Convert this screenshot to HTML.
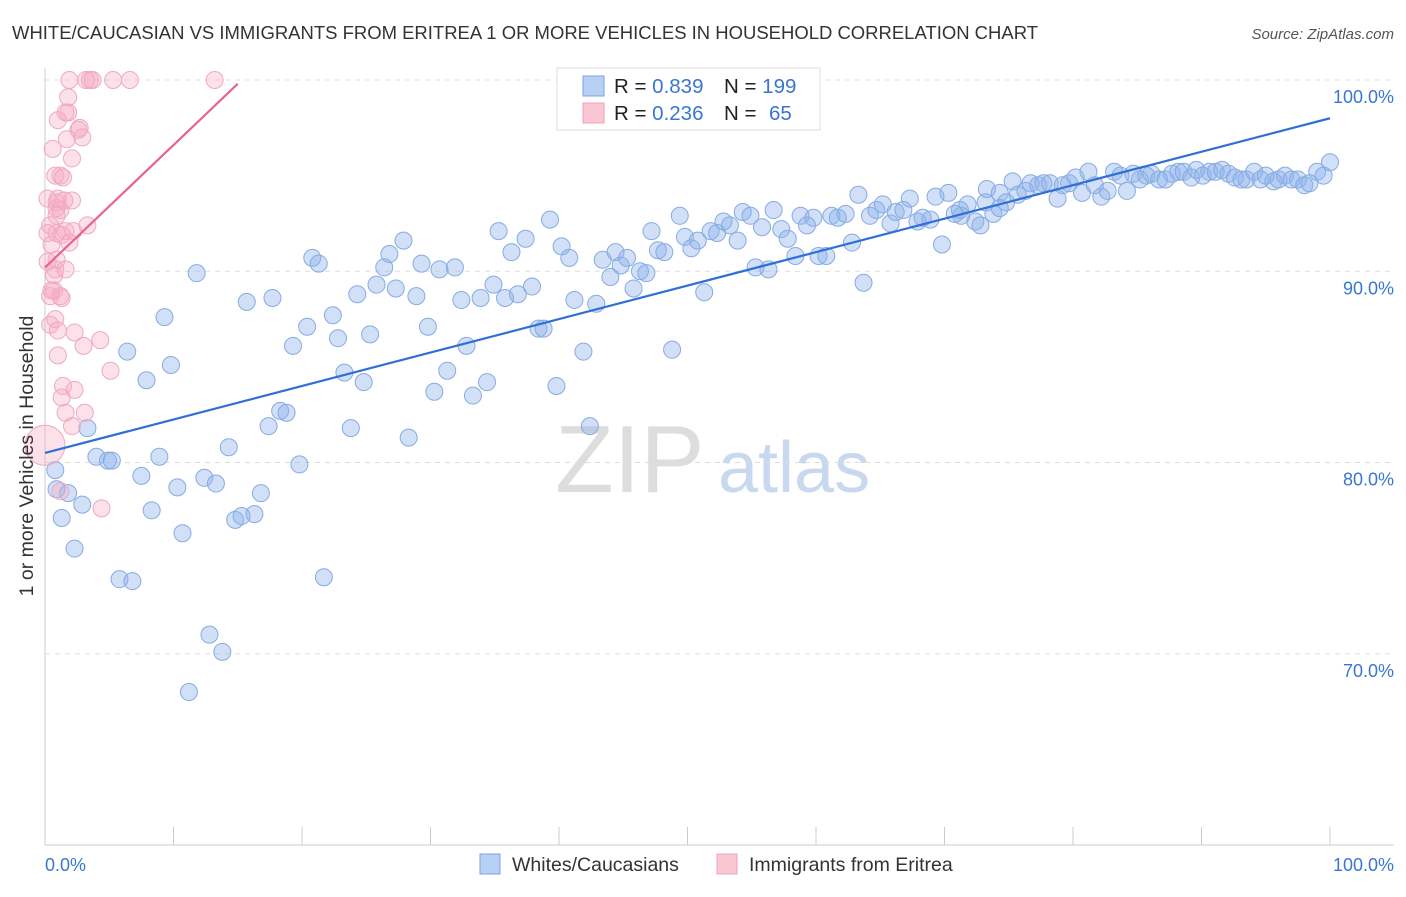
<!DOCTYPE html>
<html><head><meta charset="utf-8"><style>
body{margin:0;background:#fff;font-family:"Liberation Sans",sans-serif;}
svg text{font-family:"Liberation Sans",sans-serif;}
</style></head><body>
<svg id="chart" width="1406" height="892" viewBox="0 0 1406 892">
<text x="12" y="39" font-size="18" fill="#333" textLength="1026" lengthAdjust="spacingAndGlyphs">WHITE/CAUCASIAN VS IMMIGRANTS FROM ERITREA 1 OR MORE VEHICLES IN HOUSEHOLD CORRELATION CHART</text>
<text x="1394" y="39" font-size="15" fill="#555" font-style="italic" text-anchor="end">Source: ZipAtlas.com</text>
<text x="555" y="492" font-size="96" fill="#ddd" font-family="Liberation Serif">ZIP</text>
<text x="718" y="492" font-size="72" fill="#c8d8ee">atlas</text>
<g id="grid"></g>
<g id="axes"></g>
<g id="points"></g>
<g id="lines"></g>
<text transform="translate(33,456) rotate(-90)" font-size="19.5" fill="#333" text-anchor="middle">1 or more Vehicles in Household</text>
<text x="45" y="871" font-size="18" fill="#3a76d0">0.0%</text>
<text x="1394" y="871" font-size="18" fill="#3a76d0" text-anchor="end">100.0%</text>
<g>
<rect x="557" y="68" width="263" height="62" fill="#fff" stroke="#ddd"/>
<rect x="583" y="76" width="21" height="20" fill="#b7cff3" stroke="#7aa3e0"/>
<rect x="583" y="103" width="21" height="20" fill="#f9c6d4" stroke="#f0a0bc"/>
<text x="614" y="93" font-size="20.5" fill="#222">R = <tspan fill="#3a76d0">0.839</tspan><tspan x="724">N = </tspan><tspan fill="#3a76d0">199</tspan></text>
<text x="614" y="120" font-size="20.5" fill="#222">R = <tspan fill="#3a76d0">0.236</tspan><tspan x="724">N = </tspan><tspan fill="#3a76d0" x="769">65</tspan></text>
</g>
<g>
<rect x="480" y="854" width="20" height="20" fill="#b7cff3" stroke="#7aa3e0"/>
<text x="512" y="871" font-size="19.5" fill="#333">Whites/Caucasians</text>
<rect x="717" y="854" width="20" height="20" fill="#f9c6d4" stroke="#f0a0bc"/>
<text x="749" y="871" font-size="19.5" fill="#333">Immigrants from Eritrea</text>
</g>
</svg>
<script>
const yTicks=[100,90,80,70];
const yTickLabels=["100.0%","90.0%","80.0%","70.0%"];
const xTicks=[0,10,20,30,40,50,60,70,80,90,100];
const blueX=[0.8,0.9,1.3,1.8,2.3,2.9,3.3,4.0,4.9,5.2,5.8,6.4,6.8,7.5,7.9,8.3,8.9,9.3,9.8,10.3,10.7,11.2,11.8,12.4,12.8,13.3,13.8,14.3,14.8,15.3,15.7,16.3,16.8,17.4,17.7,18.3,18.8,19.3,19.8,20.4,20.8,21.3,21.7,22.4,22.8,23.3,23.8,24.3,24.8,25.3,25.8,26.4,26.8,27.3,27.9,28.3,28.9,29.3,29.8,30.3,30.7,31.3,31.9,32.4,32.8,33.3,33.9,34.4,34.9,35.3,35.8,36.3,36.8,37.4,37.9,38.4,38.8,39.3,39.8,40.2,40.8,41.2,41.9,42.4,42.9,43.4,44.0,44.4,44.8,45.3,45.8,46.3,46.8,47.2,47.7,48.2,48.8,49.4,49.8,50.3,50.8,51.3,51.8,52.3,52.8,53.3,53.9,54.3,54.9,55.3,55.8,56.3,56.7,57.3,57.8,58.4,58.8,59.3,59.8,60.2,60.8,61.2,61.7,62.3,62.8,63.3,63.7,64.2,64.7,65.2,65.8,66.2,66.8,67.3,67.9,68.3,68.9,69.3,69.8,70.3,70.8,71.3,71.8,72.4,72.8,73.3,73.8,74.3,74.8,75.3,75.7,76.3,76.7,77.3,77.7,78.2,78.8,79.2,79.7,80.2,80.7,81.2,81.7,82.2,82.7,83.2,83.7,84.2,84.7,85.2,85.7,86.1,86.7,87.2,87.7,88.2,88.6,89.2,89.6,90.1,90.6,91.1,91.6,92.1,92.6,93.1,93.5,94.1,94.6,95.0,95.6,96.0,96.5,97.0,97.5,98.0,98.4,99.0,99.5,100.0,74.3,73.2,71.2];
const blueY=[79.6,78.6,77.1,78.4,75.5,77.8,81.8,80.3,80.1,80.1,73.9,85.8,73.8,79.3,84.3,77.5,80.3,87.6,85.1,78.7,76.3,68.0,89.9,79.2,71.0,78.9,70.1,80.8,77.0,77.2,88.4,77.3,78.4,81.9,88.6,82.7,82.6,86.1,79.9,87.1,90.7,90.4,74.0,87.7,86.5,84.7,81.8,88.8,84.2,86.7,89.3,90.2,90.9,89.1,91.6,81.3,88.7,90.4,87.1,83.7,90.1,84.8,90.2,88.5,86.1,83.5,88.6,84.2,89.3,92.1,88.6,91.0,88.8,91.7,89.2,87.0,87.0,92.7,84.0,91.3,90.7,88.5,85.8,81.9,88.3,90.6,89.7,91.0,90.3,90.7,89.1,90.0,89.9,92.1,91.1,91.0,85.9,92.9,91.8,91.2,91.6,88.9,92.1,92.0,92.6,92.4,91.6,93.1,92.9,90.2,92.3,90.1,93.2,92.2,91.7,90.8,92.9,92.4,92.8,90.8,90.8,92.9,92.8,93.0,91.5,94.0,89.4,92.9,93.2,93.5,92.5,93.1,93.2,93.8,92.6,92.8,92.7,93.9,91.4,94.1,93.0,92.9,93.5,92.6,92.4,94.3,93.0,94.1,93.6,94.7,94.0,94.2,94.6,94.5,94.6,94.6,93.8,94.5,94.6,94.9,94.1,95.2,94.5,93.9,94.2,95.2,95.0,94.2,95.1,94.8,95.0,95.1,94.8,94.8,95.1,95.2,95.2,94.9,95.3,95.0,95.2,95.2,95.3,95.1,94.9,94.8,94.8,95.2,94.8,95.0,94.7,94.8,95.0,94.8,94.8,94.5,94.6,95.2,95.0,95.7,93.3,93.6,93.2];
const pinkX=[0.2,0.4,0.5,0.7,0.8,0.8,0.9,1.0,1.0,1.2,1.3,1.3,1.4,1.6,1.6,1.7,1.8,1.9,2.1,2.2,2.3,2.6,2.7,2.9,3.0,3.2,3.3,3.5,3.7,4.3,4.4,5.1,5.3,6.6,13.2,0.8,1.2,1.5,0.9,0.5,0.4,1.9,1.6,2.1,1.2,2.3,0.6,0.2,0.9,1.3,0.7,1.4,0.9,1.2,1.8,3.1,1.6,2.1,0.2,0.9,0.4,1.0,1.0];
const pinkY=[93.8,92.4,91.4,89.0,90.1,87.5,93.3,86.9,85.6,93.2,88.6,83.4,84.0,90.1,92.1,96.9,98.3,100,95.9,92.1,86.8,97.4,97.5,97.0,86.1,100,92.4,100,100,86.4,77.6,84.8,100,100,100,95.0,95.0,93.7,90.6,89.0,88.7,91.5,82.6,81.9,78.5,83.8,96.4,92.0,92.0,91.9,89.8,94.9,93.6,88.7,99.1,82.6,98.3,93.7,90.5,92.9,87.2,97.9,93.8];
const blueLine=[[0,80.5],[100,98.0]];
const pinkLine=[[0,90.2],[15,99.8]];

const NS="http://www.w3.org/2000/svg";
const X0=45,X1=1330,Y0=845,Ytop=80;
function sx(v){return X0+(X1-X0)*v/100;}
function sy(v){return Y0-(Y0-Ytop)*(v-60)/40;}
function mk(tag,attrs,parent){const e=document.createElementNS(NS,tag);for(const k in attrs)e.setAttribute(k,attrs[k]);parent.appendChild(e);return e;}
const grid=document.getElementById('grid'),axes=document.getElementById('axes'),pts=document.getElementById('points'),lines=document.getElementById('lines');
yTicks.forEach((t,i)=>{
  const l=mk('line',{x1:X0,x2:1394,y1:sy(t),y2:sy(t),stroke:'#ddd','stroke-dasharray':'5,5'},grid);
  
  
  const tx=mk('text',{x:1394,y:sy(t)+23,'font-size':18,fill:'#3a76d0','text-anchor':'end'},grid);
  tx.textContent=yTickLabels[i];
  
  
});
const ya=mk('line',{x1:X0,x2:X0,y1:68,y2:Y0,stroke:'#ccc'},axes);


const xa=mk('line',{x1:X0,x2:1394,y1:Y0,y2:Y0,stroke:'#ccc'},axes);


xTicks.forEach(t=>{
  const l=mk('line',{x1:sx(t),x2:sx(t),y1:Y0,y2:Y0-18,stroke:'#ccc'},axes);
  
  
});
blueX.forEach((x,i)=>{
  const c=mk('circle',{cx:sx(x),cy:sy(blueY[i]),r:8.5,fill:'rgba(140,178,236,0.4)',stroke:'#86abe3','stroke-width':1},pts);
  
  
});
pinkX.forEach((x,i)=>{
  const c=mk('circle',{cx:sx(x),cy:sy(pinkY[i]),r:8.5,fill:'rgba(245,170,195,0.35)',stroke:'#f0a8c0','stroke-width':1},pts);
  
  
});
const big=mk('circle',{cx:sx(0),cy:sy(80.9),r:20,fill:'rgba(245,170,195,0.35)',stroke:'#f0a8c0'},pts);


const bl=mk('line',{x1:sx(blueLine[0][0]),y1:sy(blueLine[0][1]),x2:sx(blueLine[1][0]),y2:sy(blueLine[1][1]),stroke:'#2f6fd6','stroke-width':2.2},lines);


const pl=mk('line',{x1:sx(pinkLine[0][0]),y1:sy(pinkLine[0][1]),x2:sx(pinkLine[1][0]),y2:sy(pinkLine[1][1]),stroke:'#e8638f','stroke-width':2.2},lines);


</script>
</body></html>
